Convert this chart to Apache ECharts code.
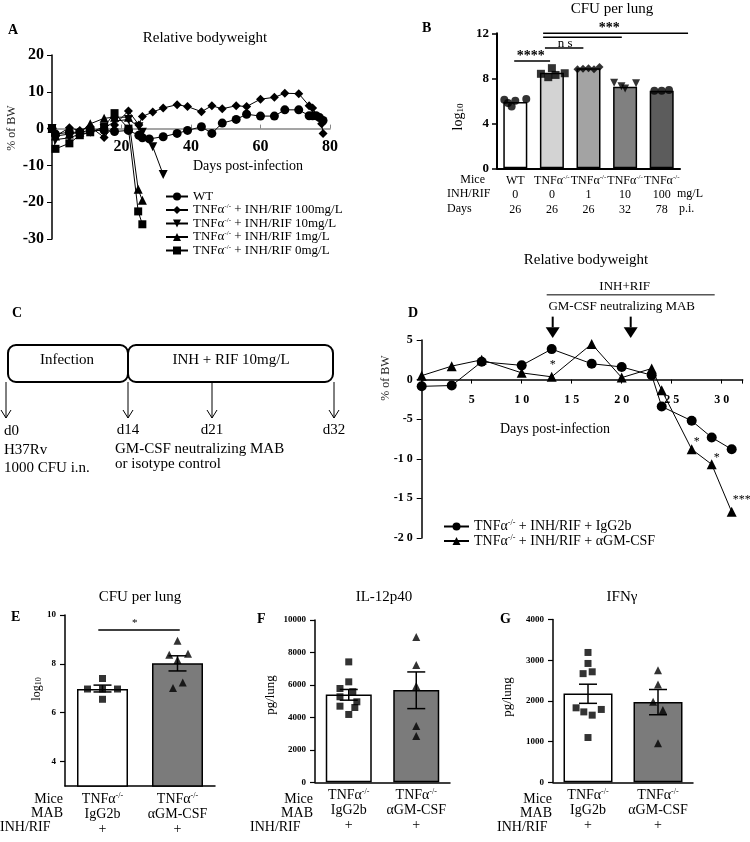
<!DOCTYPE html>
<html>
<head>
<meta charset="utf-8">
<script src="https://cdn.jsdelivr.net/npm/echarts@6/dist/echarts.min.js"></script>
<style>
html,body{margin:0;padding:0;background:#fff;}
#chart{width:750px;height:842px;}
</style>
</head>
<body>
<div id="chart"></div>
<script>
// ---------------- Panel A : relative bodyweight ----------------
const aNames = ['WT','TNFα-/- + INH/RIF 100mg/L','TNFα-/- + INH/RIF 10mg/L','TNFα-/- + INH/RIF 1mg/L','TNFα-/- + INH/RIF 0mg/L'];
const aWtDays = [0,1,5,8,11,15,18,22,25,26,28,32,36,39,43,46,49,53,56,60,64,67,71,74,75,76,77,78];
const aWtVals = [0,-1.5,-1,-1,-0.5,-0.5,-0.8,-0.5,-1.8,-2.5,-2.8,-2.2,-1.3,-0.5,0.5,-1.3,1.5,2.5,3.9,3.4,3.4,5.1,5.1,3.5,3.5,3.5,3.0,2.2];
const a100Days = [0,1,5,8,11,15,18,22,25,26,29,32,36,39,43,46,49,53,56,60,64,67,71,74,75,77.6,78];
const a100Vals = [0,-2,0.2,-0.5,0.5,-2.4,1,4.8,1,3.3,4.5,5.6,6.5,6.0,4.6,6.2,5.4,6.2,6.0,8.0,8.5,9.6,9.5,6.2,5.6,1.3,-1.3];
const a10Days = [0,1,5,8,11,15,18,22,25,26,29,32];
const a10Vals = [0,-3,-2.5,-1.5,-1,0,2,2.5,0.5,-1,-4.9,-12.5];
const a1Days = [0,1,5,8,11,15,18,22,24.8,26];
const a1Vals = [0,-2,-1.5,-1,1.3,2.8,3.1,3.1,-16.5,-19.5];
const a0Days = [0,1,5,8,11,15,18,22,24.8,26];
const a0Vals = [0,-5.5,-4,-1.8,-1,0.5,4.2,0,-22.5,-26];

// ---------------- Panel B : CFU per lung ----------------
const bMice = ['WT','TNFα-/-','TNFα-/-','TNFα-/-','TNFα-/-'];
const bDose = ['0','0','1','10','100'];
const bDay = ['26','26','26','32','78'];
const bMeans = [5.9, 8.5, 8.9, 7.25, 6.9];
const bPts = [[6.1,6.0,6.15,5.5,5.8],[8.9,8.4,8.3,8.45,8.1],[8.8,8.9,9.0,8.85,8.8],[7.6,7.1,7.55,7.3],[6.9,6.9,6.95]];

// ---------------- Panel D : relative bodyweight ----------------
const dNames = ['TNFα-/- + INH/RIF + IgG2b','TNFα-/- + INH/RIF + αGM-CSF'];
const dDays = [0,3,6,10,13,17,20,23,24,27,29,31];
const dIgg = [-0.85,-0.75,2.25,1.8,3.85,2.0,1.6,0.55,-3.4,-5.2,-7.3,-8.8];
const dGm = [0.5,1.7,2.5,0.85,0.35,4.5,0.25,1.4,-1.35,-8.8,-10.7,-16.7];

// ---------------- Panels E/F/G ----------------
const efgCats = ['IgG2b','αGM-CSF'];
const eMeans = [6.97, 8.02];
const eLo = [6.85, 7.71];
const eHi = [7.13, 8.33];
const ePtsIgg = [7.4, 6.97, 6.97, 6.97, 6.55];
const ePtsGm = [8.95, 8.37, 8.41, 8.16, 7.01, 7.24];
const fMeans = [5410, 5683];
const fLo = [5060, 4540];
const fHi = [5720, 6800];
const fPtsIgg = [7420,6190,5780,5580,5270,4960,4690,4610,4180];
const fPtsGm = [8960,7220,5930,3470,2850];
const gMeans = [2179, 1974];
const gLo = [1940, 1660];
const gHi = [2410, 2280];
const gPtsIgg = [3190,2920,2670,2715,1830,1730,1650,1790,1100];
const gPtsGm = [2756,2404,1979,1774,957];

// horizontal scatter spread (in category units) - layout only
const bJit = [[-0.3,0,0.3,-0.1,-0.2],[0,-0.3,0.1,0.35,-0.1],[-0.3,0,0.3,-0.15,0.15],[-0.3,0,0.3,-0.1],[-0.2,0,0.2]];
const eJitIgg = [0,-0.2,0,0.2,0];
const eJitGm = [0,-0.11,0.14,0,-0.06,0.07];
const fJitIgg = [0,0,-0.13,0.06,-0.13,0.12,-0.13,0.09,0];
const fJitGm = [0,0,0,0,0];
const gJitIgg = [0,0,-0.07,0.06,-0.17,-0.06,0.06,0.19,0];
const gJitGm = [0,0,-0.07,0.07,0];

const FONT = 'Liberation Serif';
const chart = echarts.init(document.getElementById('chart'), null, {renderer:'canvas', width:750, height:842});

function supRich(fs){
  return {
    t:{fontFamily:FONT,fontSize:fs,color:'#000',lineHeight:Math.round(fs*1.05)},
    s:{fontFamily:FONT,fontSize:Math.round(fs*0.55),color:'#000',verticalAlign:'top',lineHeight:Math.round(fs*0.55)}
  };
}
function tnf(rest){ return '{t|TNFα}{s|-/-}' + (rest ? '{t|' + rest + '}' : ''); }
function legendFmt(name){ return name.indexOf('TNFα-/-') === 0 ? tnf(name.slice(7)) : '{t|' + name + '}'; }
function spaced(v){ const s = String(Math.abs(v)).split('').join(' '); return (v < 0 ? '-' : '') + s; }

function pairs(xs, ys){ return xs.map((x,i)=>[x, ys[i]]); }
function jitter(center, pts, jit){ return pts.map((v,k)=>[center + jit[k], v]); }

function errRender(params, api){
  const x = api.value(0), lo = api.value(1), hi = api.value(2);
  const a = api.coord([x, hi]), b = api.coord([x, lo]);
  const w = 9, st = {stroke:'#000', lineWidth:1.5};
  return {type:'group', children:[
    {type:'line', shape:{x1:a[0],y1:a[1],x2:b[0],y2:b[1]}, style:st},
    {type:'line', shape:{x1:a[0]-w,y1:a[1],x2:a[0]+w,y2:a[1]}, style:st},
    {type:'line', shape:{x1:b[0]-w,y1:b[1],x2:b[0]+w,y2:b[1]}, style:st}
  ]};
}

const blackLine = (w) => ({show:true, onZero:false, lineStyle:{color:'#000', width:w}});

function smallY(gi, min, max, interval, custom){
  const y = {gridIndex:gi, type:'value', min, max, splitLine:{show:false},
    axisLine:blackLine(1.5), axisTick:{show:true, length:5, lineStyle:{color:'#000', width:1.2}},
    axisLabel:{fontFamily:FONT, fontSize:9, fontWeight:'bold', color:'#000', margin:9, formatter:v=>String(v)}};
  if (custom) { y.axisLabel.customValues = custom; y.axisTick.customValues = custom; }
  else y.interval = interval;
  return y;
}
function catX(gi){
  return {gridIndex:gi, type:'category', data:efgCats, axisLine:{show:true, lineStyle:{color:'#000', width:1.5}},
    axisTick:{show:false},
    axisLabel:{interval:0, margin:6, formatter:(v)=> tnf('') + '\n{t|' + v + '}\n{t|+}', rich:supRich(14)}};
}
function hiddenX(gi, min, max){ return {gridIndex:gi, type:'value', min, max, show:false}; }

// grid geometry
const GA = {left:52, top:55, width:278, height:184};
const GD = {left:421.7, top:340, width:321, height:198};

const option = {
  animation:false,
  backgroundColor:'#fff',
  textStyle:{fontFamily:FONT},
  grid:[
    GA,
    {left:497, top:33.3, width:183, height:135},
    GD,
    {left:65, top:615, width:150, height:171},
    {left:315, top:620, width:135, height:162.3},
    {left:553, top:619.5, width:140, height:162.8}
  ].map(g => Object.assign({outerBoundsMode:'none', containLabel:false}, g)),
  xAxis:[
    {gridIndex:0, type:'value', min:0, max:80, interval:20, splitLine:{show:false},
      position:'bottom', offset: -GA.height * 30 / 50,
      axisLine:{show:true, onZero:false, lineStyle:{color:'#888', width:1.5}},
      axisTick:{show:true, inside:true, length:4, lineStyle:{color:'#888'}},
      axisLabel:{fontFamily:FONT, fontSize:16, fontWeight:'bold', color:'#000', margin:10, formatter:v=> v===0 ? '' : String(v)}},
    {gridIndex:1, type:'category', data:bMice.map((m,i)=> m + ' ' + bDose[i]),
      axisLine:{show:true, lineStyle:{color:'#000', width:2}}, axisTick:{show:false},
      axisLabel:{interval:0, margin:5, formatter:(v,i)=> (bMice[i]==='WT' ? '{t|WT}' : tnf('')) + '\n{t|' + bDose[i] + '}\n{t|' + bDay[i] + '}',
        rich:Object.assign(supRich(12), {t:{fontFamily:FONT,fontSize:12,color:'#000',lineHeight:14.5}})}},
    hiddenX(1, -0.5, 4.5),
    {gridIndex:2, type:'value', min:0, max:32.1, interval:5, splitLine:{show:false},
      position:'bottom', offset: -GD.height * 20 / 25,
      axisLine:{show:true, onZero:false, lineStyle:{color:'#000', width:1.5}},
      axisTick:{show:true, length:4, lineStyle:{color:'#000'}},
      axisLabel:{fontFamily:FONT, fontSize:12, fontWeight:'bold', color:'#000', margin:14,
        formatter:v=> (v>0 && v%5===0) ? spaced(v) : ''}},
    catX(3), hiddenX(3, -0.5, 1.5),
    catX(4), hiddenX(4, -0.5, 1.5),
    catX(5), hiddenX(5, -0.5, 1.5)
  ],
  yAxis:[
    {gridIndex:0, type:'value', min:-30, max:20, interval:10, splitLine:{show:false},
      axisLine:blackLine(1.5), axisTick:{show:true, length:5, lineStyle:{color:'#000'}},
      axisLabel:{fontFamily:FONT, fontSize:16, fontWeight:'bold', color:'#000', margin:8}},
    {gridIndex:1, type:'value', min:0, max:12, interval:4, splitLine:{show:false},
      axisLine:blackLine(2), axisTick:{show:true, length:5, lineStyle:{color:'#000', width:1.5}},
      axisLabel:{fontFamily:FONT, fontSize:13, fontWeight:'bold', color:'#000', margin:8}},
    {gridIndex:2, type:'value', min:-20, max:5, interval:5, splitLine:{show:false},
      axisLine:blackLine(1.5), axisTick:{show:true, length:5, lineStyle:{color:'#000'}},
      axisLabel:{fontFamily:FONT, fontSize:12, fontWeight:'bold', color:'#000', margin:9, formatter:spaced}},
    smallY(3, 3, 10, null, [4,6,8,10]),
    smallY(4, 0, 10000, 2000),
    smallY(5, 0, 4000, 1000)
  ],
  legend:[
    {left:160, top:185, orient:'vertical', itemGap:0, itemWidth:22, itemHeight:10, selectedMode:false,
      data:aNames, formatter:legendFmt, textStyle:{rich:supRich(13)}},
    {left:438, top:514, orient:'vertical', itemGap:0, itemWidth:25, itemHeight:10, selectedMode:false,
      data:dNames, formatter:legendFmt, textStyle:{rich:supRich(14)}}
  ],
  series:[]
};

function lineSeries(name, xi, yi, data, symbol, size, rot){
  return {name, type:'line', xAxisIndex:xi, yAxisIndex:yi, data, symbol, symbolSize:size, symbolRotate:rot||0,
    lineStyle:{color:'#000', width:1}, itemStyle:{color:'#000'}, z:3};
}
const S = option.series;
S.push(lineSeries(aNames[0], 0, 0, pairs(aWtDays, aWtVals), 'circle', 9));
S.push(lineSeries(aNames[1], 0, 0, pairs(a100Days, a100Vals), 'diamond', 9));
S.push(lineSeries(aNames[2], 0, 0, pairs(a10Days, a10Vals), 'triangle', 9, 180));
S.push(lineSeries(aNames[3], 0, 0, pairs(a1Days, a1Vals), 'triangle', 9));
S.push(lineSeries(aNames[4], 0, 0, pairs(a0Days, a0Vals), 'rect', 8));

// Panel B
const bColors = ['#ffffff','#d3d3d3','#a3a3a3','#808080','#5c5c5c'];
const bSym = ['circle','rect','diamond','triangle','circle'];
S.push({type:'bar', xAxisIndex:1, yAxisIndex:1, barWidth:24, z:2,
  data:bMeans.map((v,i)=>({value:v, itemStyle:{color:bColors[i]}})),
  itemStyle:{borderColor:'#000', borderWidth:1.5}});
bPts.forEach((pts,i)=>{
  S.push({type:'scatter', xAxisIndex:2, yAxisIndex:1, symbol:bSym[i], symbolRotate: i===3 ? 180 : 0,
    symbolSize:8, itemStyle:{color:'#000'}, z:4, data:jitter(i, pts, bJit[i])});
});

// Panel D
S.push(lineSeries(dNames[0], 3, 2, pairs(dDays, dIgg), 'circle', 10));
S.push(lineSeries(dNames[1], 3, 2, pairs(dDays, dGm), 'triangle', 10));

// Panels E/F/G
function barPanel(catIdx, valIdx, yIdx, means, lo, hi, ptsA, jitA, symA, ptsB, jitB, bw){
  S.push({type:'bar', xAxisIndex:catIdx, yAxisIndex:yIdx, barWidth:bw, z:2,
    data:means.map((v,i)=>({value:v, itemStyle:{color: i===0 ? '#ffffff' : '#7b7b7b'}})),
    itemStyle:{borderColor:'#000', borderWidth:1.5}});
  S.push({type:'scatter', xAxisIndex:valIdx, yAxisIndex:yIdx, symbol:symA, symbolSize:7, itemStyle:{color:'#000'}, z:4,
    data:jitter(0, ptsA, jitA)});
  S.push({type:'scatter', xAxisIndex:valIdx, yAxisIndex:yIdx, symbol:'triangle', symbolSize:8, itemStyle:{color:'#000'}, z:4,
    data:jitter(1, ptsB, jitB)});
  S.push({type:'custom', xAxisIndex:valIdx, yAxisIndex:yIdx, renderItem:errRender, z:5,
    encode:{x:0, y:[1,2]}, data:lo.map((l,i)=>[i, l, hi[i]])});
}
barPanel(4, 5, 3, eMeans, eLo, eHi, ePtsIgg, eJitIgg, 'rect', ePtsGm, eJitGm, 51);
barPanel(6, 7, 4, fMeans, fLo, fHi, fPtsIgg, fJitIgg, 'rect', fPtsGm, fJitGm, 46);
barPanel(8, 9, 5, gMeans, gLo, gHi, gPtsIgg, gJitIgg, 'rect', gPtsGm, gJitGm, 49);

chart.setOption(option);

// ---------------- annotations ----------------
const G = [];
function T(text, x, y, o){
  o = o || {};
  const st = {text, fill:o.color||'#000', fontFamily:FONT, fontSize:o.fs||13, fontWeight:o.bold?'bold':'normal',
    align:o.align||'center', verticalAlign:'middle', textAlign:o.align||'center', textVerticalAlign:'middle'};
  if (o.rich) st.rich = o.rich;
  G.push({type:'text', x, y, rotation:o.rot||0, silent:true, z:100, style:st});
}
function L(x1,y1,x2,y2,w){ G.push({type:'line', silent:true, z:100, shape:{x1,y1,x2,y2}, style:{stroke:'#000', lineWidth:w||1}}); }

const ROT = Math.PI/2;
// panel letters
T('A', 8, 30, {bold:true, fs:14, align:'left'});
T('B', 422, 28, {bold:true, fs:14, align:'left'});
T('C', 12, 313, {bold:true, fs:14, align:'left'});
T('D', 408, 313, {bold:true, fs:14, align:'left'});
T('E', 11, 617, {bold:true, fs:14, align:'left'});
T('F', 257, 619, {bold:true, fs:14, align:'left'});
T('G', 500, 619, {bold:true, fs:14, align:'left'});
// titles
T('Relative bodyweight', 205, 38, {fs:15});
T('CFU per lung', 612, 9, {fs:15});
T('Relative bodyweight', 586, 260, {fs:15});
T('CFU per lung', 140, 597, {fs:15});
T('IL-12p40', 384, 597, {fs:15});
T('IFNγ', 622, 597, {fs:15});
// axis titles
T('Days post-infection', 248, 166, {fs:14});
T('Days post-infection', 555, 429, {fs:14});
T('% of BW', 12, 128, {fs:12, rot:ROT, color:'#222'});
T('% of BW', 386, 378, {fs:12, rot:ROT, color:'#222'});
const logRich = (a,b)=>({a:{fontFamily:FONT,fontSize:a,fill:'#000',color:'#000'}, b:{fontFamily:FONT,fontSize:b,fill:'#000',color:'#000',verticalAlign:'bottom'}});
T('{a|log}{b|10}', 458, 117, {rot:ROT, rich:logRich(14,9)});
T('{a|log}{b|10}', 37, 689, {rot:ROT, rich:logRich(12,8)});
T('pg/lung', 271, 695, {fs:13, rot:ROT});
T('pg/lung', 508, 697, {fs:13, rot:ROT});
// panel B row labels
T('Mice', 485, 180, {fs:12, align:'right'});
T('INH/RIF', 447, 194, {fs:12, align:'left'});
T('Days', 447, 209, {fs:12, align:'left'});
T('mg/L', 677, 194, {fs:12, align:'left'});
T('p.i.', 679, 209, {fs:12, align:'left'});
// panels E/F/G row labels
[[63,0],[313,250],[552,497]].forEach(([r,l])=>{
  T('Mice', r, 799, {fs:14, align:'right'});
  T('MAB', r, 813, {fs:14, align:'right'});
  T('INH/RIF', l, 827, {fs:14, align:'left'});
});

// panel C timeline diagram
G.push({type:'rect', silent:true, shape:{x:8, y:345, width:120, height:37, r:8}, style:{fill:'none', stroke:'#000', lineWidth:2}});
G.push({type:'rect', silent:true, shape:{x:128, y:345, width:205, height:37, r:8}, style:{fill:'none', stroke:'#000', lineWidth:2}});
T('Infection', 67, 360, {fs:15});
T('INH + RIF 10mg/L', 231, 360, {fs:15});
const cMarks = ['d0','d14','d21','d32'];
[6,128,212,334].forEach((x,i)=>{
  L(x, 382, x, 418, 1);
  G.push({type:'polyline', silent:true, shape:{points:[[x-5,410],[x,418],[x+5,410]]}, style:{fill:'none', stroke:'#000', lineWidth:1}});
  if (i===0) T(cMarks[i], 4, 431, {fs:15, align:'left'}); else T(cMarks[i], x, 430, {fs:15});
});
T('H37Rv', 4, 450, {fs:15, align:'left'});
T('1000 CFU i.n.', 4, 468, {fs:15, align:'left'});
T('GM-CSF neutralizing MAB', 115, 449, {fs:15, align:'left'});
T('or isotype control', 115, 464, {fs:15, align:'left'});

// data-anchored annotations
const pB = p => chart.convertToPixel({xAxisIndex:2, yAxisIndex:1}, p);
const pD = p => chart.convertToPixel({xAxisIndex:3, yAxisIndex:2}, p);
const pE = p => chart.convertToPixel({xAxisIndex:5, yAxisIndex:3}, p);
function segB(x1,x2,y){ const a=pB([x1,y]), b=pB([x2,y]); L(a[0],a[1],b[0],b[1],1.5); }
segB(-0.03, 0.95, 9.54);
segB(0.81, 1.86, 10.69);
segB(0.76, 2.91, 11.64);
segB(0.76, 4.72, 12.0);
let q;
q = pB([0.42, 9.96]); T('****', q[0], q[1], {fs:14, bold:true});
q = pB([1.36, 11.1]); T('n s', q[0], q[1], {fs:13});
q = pB([2.57, 12.44]); T('***', q[0], q[1], {fs:14, bold:true});

// panel D treatment annotations
let a = pD([12.5, 10.7]), b = pD([29.3, 10.7]); L(a[0], a[1], b[0], b[1], 1);
q = pD([20.3, 11.7]); T('INH+RIF', q[0], q[1], {fs:13});
q = pD([20.0, 9.2]); T('GM-CSF neutralizing MAB', q[0], q[1], {fs:13});
[13.1, 20.9].forEach(d=>{
  const s1 = pD([d, 7.95]), s2 = pD([d, 6.6]), tip = pD([d, 5.25]);
  L(s1[0], s1[1], s2[0], s2[1], 2);
  G.push({type:'polygon', silent:true, shape:{points:[[s2[0]-7,s2[1]],[s2[0]+7,s2[1]],[tip[0],tip[1]]]}, style:{fill:'#000'}});
});
q = pD([13.1, 1.9]); T('*', q[0], q[1], {fs:12});
q = pD([27.5, -7.8]); T('*', q[0], q[1], {fs:12});
q = pD([29.5, -9.9]); T('*', q[0], q[1], {fs:12});
q = pD([32.0, -15.2]); T('***', q[0], q[1], {fs:12});

// panel E significance
a = pE([-0.056, 9.39]); b = pE([1.03, 9.39]); L(a[0], a[1], b[0], b[1], 1.5);
q = pE([0.43, 9.65]); T('*', q[0], q[1], {fs:11});

chart.setOption({graphic:{elements:G}});
</script>
</body>
</html>
